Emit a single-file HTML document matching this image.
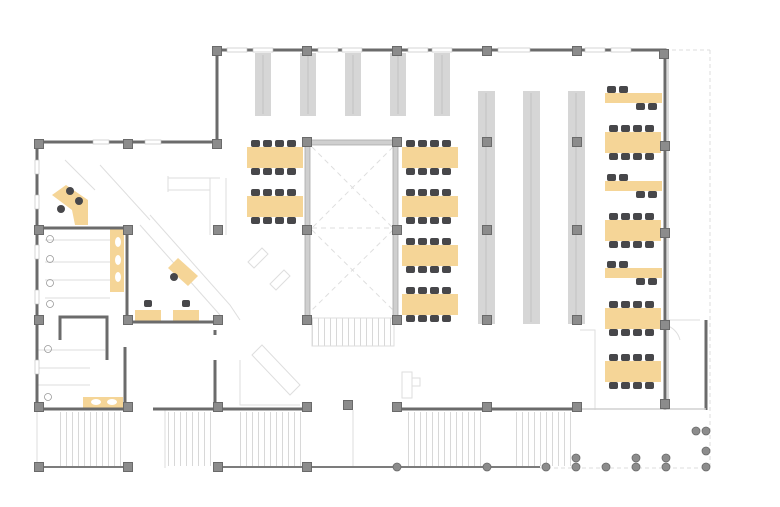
<!DOCTYPE html>
<html><head><meta charset="utf-8"><style>html,body{margin:0;padding:0;background:#fff}svg{display:block}</style></head>
<body>
<svg width="780" height="507" viewBox="0 0 780 507" xmlns="http://www.w3.org/2000/svg">
<defs>
<g id="ch"><rect x="0" y="0" width="9" height="7" rx="2" fill="#47474a"/></g>
<g id="t4">
<rect x="0" y="7" width="56" height="21" fill="#f5d597"/>
<use href="#ch" x="4" y="0"/><use href="#ch" x="16" y="0"/><use href="#ch" x="28" y="0"/><use href="#ch" x="40" y="0"/>
<use href="#ch" x="4" y="28"/><use href="#ch" x="16" y="28"/><use href="#ch" x="28" y="28"/><use href="#ch" x="40" y="28"/>
</g>
<g id="t2">
<rect x="0" y="7" width="57" height="10" fill="#f5d597"/>
<use href="#ch" x="2" y="0"/><use href="#ch" x="14" y="0"/>
<use href="#ch" x="31" y="17"/><use href="#ch" x="43" y="17"/>
</g>
<g id="col"><rect x="-4.5" y="-4.5" width="9" height="9" fill="#8c8c8c" stroke="#6a6a6a" stroke-width="1"/></g>
<pattern id="stair" width="6" height="60" patternUnits="userSpaceOnUse"><line x1="0.5" y1="0" x2="0.5" y2="60" stroke="#d8d8d8" stroke-width="1"/></pattern>
</defs>

<!-- light guides / outer dashed -->
<g fill="none" stroke="#dcdcdc" stroke-width="1" stroke-dasharray="4 3">
<line x1="665" y1="50" x2="710" y2="50"/><line x1="710" y1="50" x2="710" y2="468"/>
<line x1="540" y1="468" x2="710" y2="468"/>
</g>

<!-- stairs bottom strip -->
<rect x="60" y="412" width="62" height="54" fill="url(#stair)"/>
<rect x="166" y="412" width="50" height="54" fill="url(#stair)"/>
<rect x="238" y="412" width="66" height="54" fill="url(#stair)"/>
<rect x="405" y="412" width="80" height="54" fill="url(#stair)"/>
<rect x="512" y="412" width="60" height="54" fill="url(#stair)"/>
<rect x="312" y="318" width="82" height="28" fill="url(#stair)"/>
<g fill="none" stroke="#dedede" stroke-width="1">
<line x1="37" y1="410" x2="37" y2="468"/><line x1="165" y1="410" x2="165" y2="468"/>
<line x1="353" y1="410" x2="353" y2="468"/>
<rect x="312" y="318" width="82" height="28"/>
<!-- atrium X -->
<line x1="312" y1="147" x2="393" y2="228" stroke-dasharray="5 4"/>
<line x1="393" y1="147" x2="312" y2="228" stroke-dasharray="5 4"/>
<line x1="312" y1="230" x2="393" y2="310" stroke-dasharray="5 4"/>
<line x1="393" y1="230" x2="312" y2="310" stroke-dasharray="5 4"/>
<line x1="312" y1="228" x2="393" y2="228" stroke-dasharray="5 4"/>
<!-- misc light furniture -->
<path d="M168 178 H220 M168 190 H210 M168 176 V192 M210 178 V235 M226 178 V235"/>
<path d="M248 262 L262 248 L268 254 L254 268Z M270 284 L284 270 L290 276 L276 290Z"/>
<path d="M262 345 L300 385 L290 395 L252 355Z M215 360 V400 M240 360 V405 H300"/>
<path d="M150 215 L230 305 L240 320 M140 225 L220 315"/>
<path d="M65 160 L95 190 M100 165 L150 220"/>
<path d="M402 372 H412 V398 H402Z M412 378 H420 V386 H412"/>
<path d="M580 330 H595 V410 M665 320 H700 M680 340 A20 20 0 0 0 665 325"/>
<path d="M37 350 H105 M37 368 H90 M37 385 H90"/>
<path d="M45 240 H110 M45 262 H110 M45 280 H110 M45 298 H110"/>
</g>

<!-- shelves top -->
<g fill="#d6d6d6">
<rect x="255" y="53" width="16" height="63"/><rect x="300" y="53" width="16" height="63"/>
<rect x="345" y="53" width="16" height="63"/><rect x="390" y="53" width="16" height="63"/>
<rect x="434" y="53" width="16" height="63"/>
<rect x="478" y="91" width="17" height="233"/><rect x="523" y="91" width="17" height="233"/><rect x="568" y="91" width="17" height="233"/>
</g>
<g stroke="#bdbdbd" stroke-width="0.8">
<line x1="263" y1="55" x2="263" y2="114"/><line x1="308" y1="55" x2="308" y2="114"/><line x1="353" y1="55" x2="353" y2="114"/><line x1="398" y1="55" x2="398" y2="114"/><line x1="442" y1="55" x2="442" y2="114"/>
<line x1="486" y1="93" x2="486" y2="322"/><line x1="531" y1="93" x2="531" y2="322"/><line x1="576" y1="93" x2="576" y2="322"/>
</g>

<!-- atrium frame -->
<g fill="#cfcfcf" stroke="#aaa" stroke-width="0.8">
<rect x="307" y="140" width="90" height="5"/>
<rect x="305" y="142" width="5" height="178"/>
<rect x="393" y="142" width="5" height="178"/>
</g>

<!-- tables -->
<use href="#t4" x="247" y="140"/><use href="#t4" x="247" y="189"/>
<use href="#t4" x="402" y="140"/><use href="#t4" x="402" y="189"/>
<use href="#t4" x="402" y="238"/><use href="#t4" x="402" y="287"/>
<use href="#t2" x="605" y="86"/>
<use href="#t4" x="605" y="125"/>
<use href="#t2" x="605" y="174"/>
<use href="#t4" x="605" y="213"/>
<use href="#t2" x="605" y="261"/>
<use href="#t4" x="605" y="301"/>
<use href="#t4" x="605" y="354"/>

<!-- left yellow pieces -->
<g fill="#f5d597">
<path d="M52 195 L66 185 L88 200 L88 225 L75 225 L72 210 Z"/>
<rect x="110" y="229" width="14" height="63"/>
<rect x="135" y="310" width="26" height="11"/>
<rect x="173" y="310" width="26" height="11"/>
<path d="M168 268 L178 258 L198 276 L188 286 Z"/>
<rect x="83" y="397" width="40" height="11"/>
</g>
<g fill="#fff"><ellipse cx="118" cy="242" rx="3" ry="5"/><ellipse cx="118" cy="260" rx="3" ry="5"/><ellipse cx="118" cy="277" rx="3" ry="5"/><ellipse cx="96" cy="402" rx="5" ry="3"/><ellipse cx="112" cy="402" rx="5" ry="3"/></g>
<g fill="#47474a">
<circle cx="70" cy="191" r="4"/><circle cx="79" cy="201" r="4"/><circle cx="61" cy="209" r="4"/>
<circle cx="174" cy="277" r="4"/><rect x="144" y="300" width="8" height="7" rx="2"/><rect x="182" y="300" width="8" height="7" rx="2"/>
</g>
<g fill="none" stroke="#999" stroke-width="0.8">
<circle cx="50" cy="239" r="3.5"/><circle cx="50" cy="259" r="3.5"/><circle cx="50" cy="283" r="3.5"/><circle cx="50" cy="304" r="3.5"/>
<circle cx="48" cy="349" r="3.5"/><circle cx="48" cy="397" r="3.5"/>
</g>

<!-- walls -->
<g fill="none" stroke="#6b6b6b" stroke-width="3">
<polyline points="217,140 217,50 665,50 665,410"/>
<polyline points="217,142 37,142 37,409 125,409"/>
<line x1="153" y1="409" x2="302" y2="409"/>
<line x1="395" y1="409" x2="577" y2="409"/>
<polyline points="37,228 127,228 127,322 223,322"/>
<polyline points="60,340 60,317 107,317 107,360"/>
<line x1="125" y1="347" x2="125" y2="409"/>
<line x1="215" y1="360" x2="215" y2="409"/>
<line x1="215" y1="330" x2="215" y2="335"/>
<line x1="706" y1="320" x2="706" y2="410"/>
</g>
<g stroke="#7c7c7c" stroke-width="2">
<line x1="217" y1="467" x2="540" y2="467"/>
<line x1="37" y1="467" x2="127" y2="467"/>
</g>
<g stroke="#d0d0d0" stroke-width="1.5"><line x1="580" y1="409" x2="706" y2="409"/><line x1="668" y1="52" x2="668" y2="410"/></g>
<!-- windows top -->
<g fill="#fff" stroke="#bbb" stroke-width="0.6">
<rect x="227" y="48" width="20" height="4"/><rect x="253" y="48" width="20" height="4"/>
<rect x="318" y="48" width="20" height="4"/><rect x="342" y="48" width="20" height="4"/>
<rect x="408" y="48" width="20" height="4"/><rect x="432" y="48" width="20" height="4"/>
<rect x="498" y="48" width="32" height="4"/><rect x="585" y="48" width="20" height="4"/><rect x="611" y="48" width="20" height="4"/>
<rect x="93" y="140" width="16" height="4"/><rect x="145" y="140" width="16" height="4"/>
<rect x="35" y="160" width="4" height="14"/><rect x="35" y="195" width="4" height="14"/><rect x="35" y="245" width="4" height="14"/><rect x="35" y="290" width="4" height="14"/><rect x="35" y="360" width="4" height="14"/>
</g>

<!-- columns -->
<g>
<use href="#col" x="217" y="51"/><use href="#col" x="307" y="51"/><use href="#col" x="397" y="51"/><use href="#col" x="487" y="51"/><use href="#col" x="577" y="51"/><use href="#col" x="664" y="54"/>
<use href="#col" x="39" y="144"/><use href="#col" x="128" y="144"/><use href="#col" x="217" y="144"/>
<use href="#col" x="307" y="142"/><use href="#col" x="397" y="142"/><use href="#col" x="487" y="142"/><use href="#col" x="577" y="142"/><use href="#col" x="665" y="146"/>
<use href="#col" x="39" y="230"/><use href="#col" x="128" y="230"/><use href="#col" x="218" y="230"/>
<use href="#col" x="307" y="230"/><use href="#col" x="397" y="230"/><use href="#col" x="487" y="230"/><use href="#col" x="577" y="230"/><use href="#col" x="665" y="233"/>
<use href="#col" x="128" y="320"/><use href="#col" x="218" y="320"/>
<use href="#col" x="307" y="320"/><use href="#col" x="397" y="320"/><use href="#col" x="487" y="320"/><use href="#col" x="577" y="320"/><use href="#col" x="665" y="325"/>
<use href="#col" x="39" y="320"/>
<use href="#col" x="39" y="407"/><use href="#col" x="128" y="407"/><use href="#col" x="218" y="407"/><use href="#col" x="307" y="407"/><use href="#col" x="397" y="407"/><use href="#col" x="487" y="407"/><use href="#col" x="577" y="407"/><use href="#col" x="665" y="404"/>
<use href="#col" x="39" y="467"/><use href="#col" x="128" y="467"/><use href="#col" x="218" y="467"/><use href="#col" x="307" y="467"/>
<use href="#col" x="348" y="405"/>
</g>
<g fill="#8c8c8c" stroke="#6a6a6a" stroke-width="0.8">
<circle cx="397" cy="467" r="4"/><circle cx="487" cy="467" r="4"/><circle cx="546" cy="467" r="4"/><circle cx="576" cy="467" r="4"/><circle cx="606" cy="467" r="4"/><circle cx="636" cy="467" r="4"/><circle cx="666" cy="467" r="4"/><circle cx="706" cy="467" r="4"/>
<circle cx="576" cy="458" r="4"/><circle cx="636" cy="458" r="4"/><circle cx="666" cy="458" r="4"/><circle cx="706" cy="451" r="4"/>
<circle cx="696" cy="431" r="4"/><circle cx="706" cy="431" r="4"/>
</g>
</svg>
</body></html>
